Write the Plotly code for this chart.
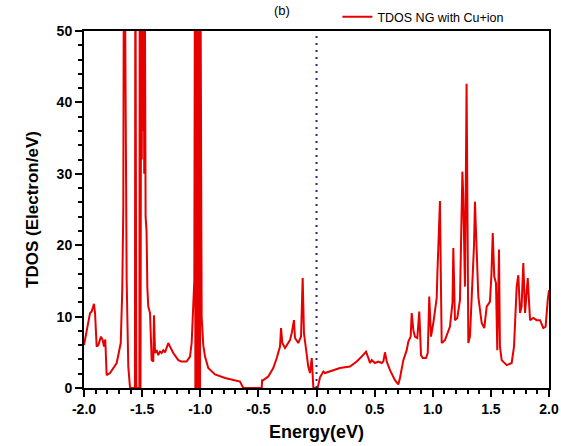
import plotly.graph_objects as go

# Total density of states of N-doped graphene with a Cu+ ion
energy = [
    -2.000, -1.948, -1.934, -1.914, -1.905, -1.891, -1.877, -1.854, -1.839, -1.828,
    -1.817, -1.805, -1.776, -1.719, -1.684, -1.671, -1.662, -1.657, -1.648, -1.641,
    -1.633, -1.619, -1.604,
    -1.562, -1.558, -1.550, -1.524, -1.520, -1.514, -1.508, -1.503, -1.498, -1.493,
    -1.488, -1.482, -1.476, -1.470, -1.462, -1.455, -1.447, -1.432, -1.426, -1.418,
    -1.404, -1.398, -1.389, -1.375, -1.361, -1.346, -1.332, -1.318, -1.303, -1.275,
    -1.260, -1.232, -1.189, -1.160, -1.117, -1.088, -1.074, -1.060, -1.051,
    -1.046, -1.042, -1.038, -1.034, -1.030, -1.026, -1.022, -1.018, -1.014, -1.010,
    -1.006, -1.002, -0.998, -0.994, -0.988, -0.974, -0.959, -0.931, -0.888, -0.873,
    -0.787, -0.701, -0.658, -0.630, -0.471, -0.468, -0.458, -0.415, -0.372, -0.342,
    -0.314, -0.305, -0.294, -0.271, -0.228, -0.213, -0.194, -0.185, -0.157, -0.133,
    -0.119, -0.108, -0.090, -0.071, -0.056, -0.041, -0.027, 0.010,
    0.030, 0.059, 0.073, 0.145, 0.202, 0.288, 0.346, 0.389, 0.426, 0.446,
    0.460, 0.475, 0.503, 0.532, 0.561, 0.575, 0.589, 0.604, 0.632, 0.675,
    0.704, 0.718, 0.747, 0.776, 0.790, 0.810, 0.819, 0.833, 0.847, 0.867,
    0.884, 0.899, 0.914, 0.942, 0.957, 0.970, 0.985, 1.005, 1.019, 1.034,
    1.039, 1.050, 1.062, 1.070, 1.077, 1.105, 1.148, 1.170, 1.177, 1.191,
    1.211, 1.234, 1.249, 1.255, 1.262, 1.277, 1.285, 1.291, 1.297, 1.306,
    1.320, 1.335, 1.355, 1.363, 1.378, 1.392, 1.421, 1.443, 1.464, 1.492,
    1.505, 1.516, 1.529, 1.544, 1.555, 1.570, 1.578, 1.593, 1.636, 1.679,
    1.699, 1.722, 1.736, 1.751, 1.764, 1.779, 1.794, 1.817, 1.837, 1.865,
    1.894, 1.923, 1.951, 1.971, 1.989, 2.000,
]

tdos = [
    6.0, 10.5, 10.7, 11.8, 10.5, 5.8, 6.0, 7.2, 6.7, 5.8,
    6.8, 1.8, 2.1, 3.5, 6.3, 13.7, 25.0, 62.0, 58.0, 24.0,
    15.1, 3.0, 0.0,
    0.0, 70.0, 0.0, 0.0, 70.0, 0.0, 60.0, 32.0, 65.0, 36.0,
    70.0, 30.0, 55.0, 24.0, 22.0, 14.0, 11.4, 10.5, 7.2, 3.9,
    3.7, 10.2, 4.9, 5.3, 4.6, 5.1, 4.9, 5.3, 5.0, 6.3,
    5.8, 4.9, 3.9, 3.7, 3.7, 4.4, 6.3, 10.5, 15.1,
    60.0, 0.0, 60.0, 0.0, 60.0, 0.0, 60.0, 0.0, 60.0, 0.0,
    60.0, 0.0, 60.0, 18.0, 10.0, 6.0, 4.4, 2.8, 2.2, 1.9,
    1.4, 1.1, 0.9, 0.0, 0.0, 1.1, 1.1, 1.6, 2.8, 4.2,
    5.8, 8.4, 6.3, 5.6, 6.7, 7.7, 9.5, 7.0, 6.3, 7.2,
    15.4, 7.7, 5.3, 3.0, 2.1, 4.2, 0.0, 0.0,
    1.5, 2.3, 2.1, 2.5, 2.8, 3.0, 3.7, 4.4, 5.1, 4.2,
    3.5, 3.9, 3.5, 3.7, 3.5, 3.7, 5.0, 3.7, 2.5, 1.1,
    0.5, 1.4, 3.9, 5.3, 6.5, 7.2, 10.5, 8.1, 7.2, 7.0,
    10.7, 4.6, 4.2, 4.2, 4.9, 12.8, 7.2, 9.1, 10.5, 12.6,
    15.6, 22.0, 26.2, 15.0, 6.3, 6.7, 8.6, 12.0, 19.6, 9.5,
    9.8, 12.3, 30.1, 30.3, 27.1, 14.2, 30.0, 42.6, 28.7, 6.3,
    7.2, 13.3, 20.0, 26.1, 19.8, 12.8, 9.1, 8.4, 11.4, 12.1,
    16.0, 21.7, 15.6, 14.7, 5.3, 19.4, 5.8, 3.9, 3.2, 3.5,
    5.8, 14.2, 15.8, 10.5, 11.4, 17.5, 10.5, 15.4, 9.5, 9.8,
    9.5, 9.5, 8.4, 8.6, 12.3, 13.7,
]

x_tick_vals = [-2.0, -1.5, -1.0, -0.5, 0.0, 0.5, 1.0, 1.5, 2.0]
x_tick_labels = ["-2.0", "-1.5", "-1.0", "-0.5", "0.0", "0.5", "1.0", "1.5", "2.0"]
y_tick_vals = [0, 10, 20, 30, 40, 50]
y_tick_labels = ["0", "10", "20", "30", "40", "50"]

FONT = "Liberation Sans, Arial, sans-serif"

fig = go.Figure()
fig.add_trace(go.Scatter(
    x=energy, y=tdos, mode="lines", name="TDOS NG with Cu+ion",
    line=dict(color="#e60000", width=2),
))

# Fermi level marker
fig.add_shape(type="line", xref="x", yref="paper", x0=0, x1=0, y0=0, y1=1,
              line=dict(color="rgb(40,40,120)", width=2, dash="2px,5px"))

# panel label
fig.add_annotation(text="(b)", xref="paper", yref="paper", x=0.425, y=1.0,
                   yshift=21, xanchor="center", yanchor="middle", showarrow=False,
                   font=dict(family=FONT, size=13, color="black"))

axis_common = dict(
    showline=True, linewidth=2, linecolor="black", mirror=True,
    ticks="outside", ticklen=7, tickwidth=2, tickcolor="black",
    showgrid=False, zeroline=False,
    tickfont=dict(family=FONT, size=14, color="black", weight="bold"),
)

fig.update_layout(
    width=561, height=446,
    margin=dict(l=84, r=12, t=31, b=58, pad=0, autoexpand=False),
    plot_bgcolor="white", paper_bgcolor="white",
    font=dict(family=FONT, color="black"),
    showlegend=True,
    legend=dict(x=0.545, y=1.039, xanchor="left", yanchor="middle",
                bgcolor="rgba(0,0,0,0)", itemwidth=30,
                font=dict(family=FONT, size=12.5, color="black")),
    xaxis=dict(
        range=[-2, 2], tickmode="array", tickvals=x_tick_vals, ticktext=x_tick_labels,
        minor=dict(tickmode="linear", tick0=-2, dtick=0.1, ticks="outside",
                   ticklen=4, tickwidth=1.5, tickcolor="black", showgrid=False),
        title=dict(text="Energy(eV)", standoff=10,
                   font=dict(family=FONT, size=18, color="black", weight="bold")),
        **axis_common,
    ),
    yaxis=dict(
        range=[0, 50], tickmode="array", tickvals=y_tick_vals, ticktext=y_tick_labels,
        minor=dict(tickmode="linear", tick0=0, dtick=2, ticks="outside",
                   ticklen=4, tickwidth=1.5, tickcolor="black", showgrid=False),
        title=dict(text="TDOS (Electron/eV)", standoff=14,
                   font=dict(family=FONT, size=17, color="black", weight="bold")),
        **axis_common,
    ),
)

fig.write_html("out.html")
